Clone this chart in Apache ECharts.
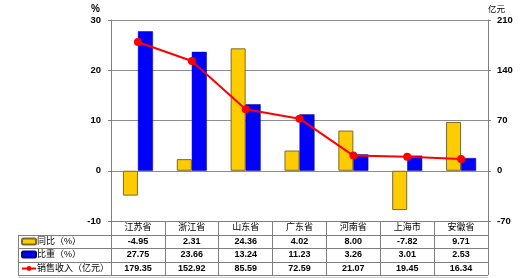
<!DOCTYPE html>
<html>
<head>
<meta charset="utf-8">
<script src="https://cdn.jsdelivr.net/npm/echarts@6/dist/echarts.min.js"></script>
<style>
  html, body { margin: 0; padding: 0; background: #fff; }
  #chart { width: 520px; height: 278px; }
</style>
</head>
<body>
<div id="chart"></div>
<script>
const provinces = ["江苏省", "浙江省", "山东省", "广东省", "河南省", "上海市", "安徽省"];
const yoy = [-4.95, 2.31, 24.36, 4.02, 8.00, -7.82, 9.71];
const share = [27.75, 23.66, 13.24, 11.23, 3.26, 3.01, 2.53];
const revenue = [179.35, 152.92, 85.59, 72.59, 21.07, 19.45, 16.34];

const seriesNames = ["同比（%）", "比重（%）", "销售收入（亿元）"];

// layout
const W = 520, H = 278;
const gridLeft = 111, gridRight = 32, gridTop = 20, gridBottom = 57;
const rowEdges = [0, 14, 27, 41, 54]; // table row borders below the plot
const tableLeft = 18;
const lineColor = "#7f7f7f";
const font = "'Liberation Sans', 'Noto Sans CJK SC', sans-serif";
const plotBottom = H - gridBottom;

const chart = echarts.init(document.getElementById("chart"));

const tableRows = [null, yoy, share, revenue];
const xAxes = tableRows.map((row, i) => {
  const h = rowEdges[i + 1] - rowEdges[i];
  return {
    type: "category",
    position: "bottom",
    offset: rowEdges[i],
    data: provinces,
    boundaryGap: true,
    axisLine: { show: true, onZero: false, lineStyle: { color: lineColor, width: 1 } },
    axisTick: { show: true, interval: 0, length: h, lineStyle: { color: lineColor } },
    axisLabel: {
      interval: 0,
      margin: h / 2,
      verticalAlign: "middle",
      color: "#000",
      fontFamily: font,
      fontSize: 9,
      fontWeight: i === 0 ? "normal" : "bold",
      formatter: (v, idx) => (row ? row[idx].toFixed(2) : v)
    }
  };
});

const rightX = W - gridRight;
const tableBottom = plotBottom + rowEdges[4];
const graphics = [];
for (let r = 1; r <= 4; r++) {
  const y = plotBottom + rowEdges[r] + 0.5;
  graphics.push({
    type: "line",
    shape: { x1: tableLeft, y1: y, x2: r === 4 ? rightX : gridLeft, y2: y },
    style: { stroke: lineColor, lineWidth: 1 }
  });
}
graphics.push({
  type: "line",
  shape: { x1: tableLeft + 0.5, y1: plotBottom + rowEdges[1], x2: tableLeft + 0.5, y2: tableBottom },
  style: { stroke: lineColor, lineWidth: 1 }
});
graphics.push({
  type: "line",
  shape: { x1: tableLeft, y1: tableBottom + 2.5, x2: rightX, y2: tableBottom + 2.5 },
  style: { stroke: "#cfcfcf", lineWidth: 1 }
});

const legends = seriesNames.map((name, i) => ({
  data: [name],
  left: tableLeft + 3,
  top: plotBottom + rowEdges[i + 1],
  padding: [2, 0, 0, 0],
  itemWidth: 14,
  itemHeight: 6,
  itemGap: 2,
  selectedMode: false,
  textStyle: { fontSize: 9, color: "#000", fontFamily: font, padding: [0, 0, 0, -4] }
}));

const option = {
  animation: false,
  textStyle: { fontFamily: font },
  grid: { left: gridLeft, right: gridRight, top: gridTop, bottom: gridBottom },
  legend: legends,
  graphic: graphics,
  xAxis: xAxes,
  yAxis: [
    {
      type: "value",
      min: -10, max: 30, interval: 10,
      name: "%",
      nameGap: 6,
      nameTextStyle: { color: "#000", fontSize: 10, fontWeight: "bold", align: "right", padding: [0, 11, 0, 0] },
      axisLine: { show: true, lineStyle: { color: lineColor } },
      axisTick: { show: true, length: 3, lineStyle: { color: lineColor } },
      axisLabel: { color: "#000", fontSize: 9.5, fontWeight: "bold", margin: 10 },
      splitLine: { show: true, lineStyle: { color: "#8c8c8c", width: 1 } }
    },
    {
      type: "value",
      min: -70, max: 210, interval: 70,
      name: "亿元",
      nameGap: 6,
      nameTextStyle: { color: "#000", fontSize: 8.5, align: "left", padding: [0, 0, 0, 0] },
      axisLine: { show: true, lineStyle: { color: lineColor } },
      axisTick: { show: true, length: 3, lineStyle: { color: lineColor } },
      axisLabel: { color: "#000", fontSize: 9.5, fontWeight: "bold", margin: 9 },
      splitLine: { show: false }
    }
  ],
  series: [
    {
      name: seriesNames[0],
      type: "bar",
      yAxisIndex: 0,
      data: yoy,
      barWidth: 15,
      barGap: "0%",
      itemStyle: { color: "#ffcc00", borderColor: "#7a6a2a", borderWidth: 1 }
    },
    {
      name: seriesNames[1],
      type: "bar",
      yAxisIndex: 0,
      data: share,
      barWidth: 15,
      barGap: "0%",
      itemStyle: { color: "#0000ff", borderColor: "#00008a", borderWidth: 0.5 }
    },
    {
      name: seriesNames[2],
      type: "line",
      yAxisIndex: 1,
      data: revenue,
      z: 5,
      symbol: "circle",
      symbolSize: 8,
      lineStyle: { color: "#ff0000", width: 2 },
      itemStyle: { color: "#ff0000" }
    }
  ]
};

chart.setOption(option);
</script>
</body>
</html>
